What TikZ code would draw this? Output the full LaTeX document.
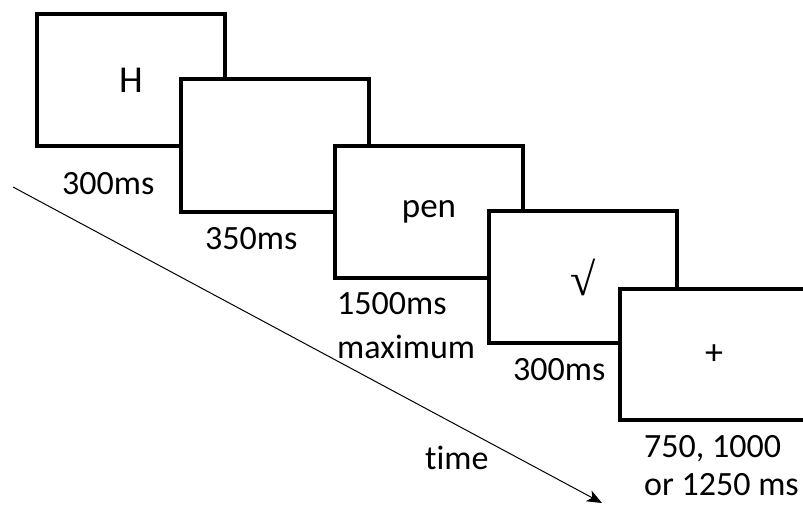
\documentclass[tikz,border=0pt]{standalone}
\usepackage{fontspec}
\setmainfont{Carlito}[Ligatures={NoCommon}]
\newfontfamily\serifsym{Liberation Serif}
\usetikzlibrary{arrows.meta}
\tikzset{
  screen/.style={draw=black, fill=white, line width=4pt, line join=miter,
    rectangle, anchor=north west, inner sep=0pt, minimum width=188pt},
  lbl/.style={anchor=base west, inner sep=0pt, font=\fontsize{34}{40}\selectfont},
  timeline/.style={line width=1pt, -{Stealth[length=15pt,width=12pt,inset=4pt]}}
}
\begin{document}
\begin{tikzpicture}[x=1pt,y=-1pt]
\useasboundingbox (0,0) rectangle (803,504);
\clip (0,0) rectangle (803,504);
\fill[white] (0,0) rectangle (803,504);
% screens
\node[screen, minimum height=132pt, font=\fontsize{38}{40}\selectfont] (s1) at (35,12) {H};
\node[screen, minimum height=133pt] (s2) at (179,77) {};
\node[screen, minimum height=132pt, font=\fontsize{35}{40}\selectfont] (s3) at (333,144) {pen};
\node[screen, minimum height=132pt, font=\serifsym\fontsize{46}{50}\selectfont] (s4) at (487,209) {√};
\node[screen, minimum height=131pt, font=\fontsize{36}{40}\selectfont] (s5) at (618,287) {+};
% durations
\node[lbl] (d1) at (62,194) {300ms};
\node[lbl] (d2) at (205,249) {350ms};
\node[lbl] (d3a) at (337,314) {1500ms};
\node[lbl] (d3b) at (337,358) {maximum};
\node[lbl] (d4) at (513,380) {300ms};
\node[lbl] (d5a) at (644,457) {750, 1000};
\node[lbl] (d5b) at (644,495) {or 1250 ms};
% time arrow
\coordinate (ts) at (13,187);
\coordinate (te) at (602,503);
\draw[timeline] (ts) -- (te);
\node[lbl] (tl) at (425,469) {time};
\end{tikzpicture}
\end{document}
